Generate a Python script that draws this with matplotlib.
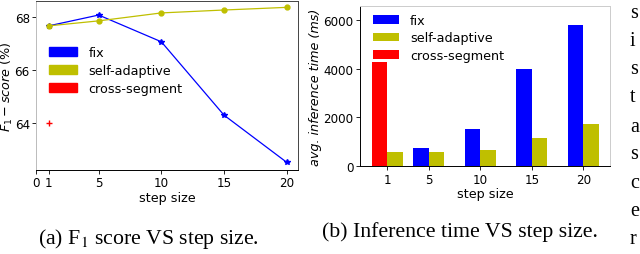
import matplotlib
matplotlib.use("Agg")
import matplotlib.pyplot as plt
from matplotlib.patches import Patch

# ---- data ----
steps = [1, 5, 10, 15, 20]
f1_fix = [67.68, 68.09, 67.08, 64.31, 62.53]
f1_self = [67.68, 67.87, 68.17, 68.28, 68.38]
f1_cross_x = [1]
f1_cross = [64.0]

bar_steps = [1, 5, 10, 15, 20]
time_fix_steps = [5, 10, 15, 20]
time_fix = [740, 1530, 4000, 5770]
time_self = [600, 590, 660, 1170, 1750]
time_cross_steps = [1]
time_cross = [4280]

labels = ["fix", "self-adaptive", "cross-segment"]
colors = ["#0000ff", "#bfbf00", "#ff0000"]
left_xticks = [0, 1, 5, 10, 15, 20]
left_yticks = [64, 66, 68]
right_yticks = [0, 2000, 4000, 6000]
side_letters = ["s", "i", "s", "t", "a", "s", "c", "e", "r"]

W, H = 640, 255
fig = plt.figure(figsize=(6.4, 2.55), dpi=100)
tfs = 8.6   # tick labels
lfs = 9.2   # axis labels / legend

def px_axes(l, t, r, b):
    return fig.add_axes([l / W, 1 - b / H, (r - l) / W, (b - t) / H])

# ---- left: F1 ----
ax1 = px_axes(36, 2, 298, 171)
ax1.plot(steps, f1_fix, color=colors[0], marker="*", markersize=4, lw=0.9)
ax1.plot(steps, f1_self, color=colors[1], marker="o", markersize=3.5, lw=0.9)
ax1.plot(f1_cross_x, f1_cross, color=colors[2], marker="+", markersize=5, lw=0, mew=1.0)
ax1.set_xlim(0, 20.9)
ax1.set_ylim(62.24, 68.62)
ax1.set_xticks(left_xticks)
ax1.set_yticks(left_yticks)
ax1.tick_params(labelsize=tfs, length=3, width=0.6, pad=1.5)
ax1.set_xlabel("step size", fontsize=lfs, labelpad=1)
ax1.set_ylabel("$F_1-score$ (%)", fontsize=lfs, labelpad=-0.5)
for s in ax1.spines.values():
    s.set_linewidth(0.7)
ax1.spines["top"].set_color("#444444")
ax1.spines["right"].set_color("#444444")
ax1.spines["left"].set_color("#bbbbbb")
handles = [Patch(color=c, label=l) for c, l in zip(colors, labels)]
ax1.legend(handles=handles, loc="upper left", bbox_to_anchor=(0.05, 0.735),
           frameon=False, fontsize=lfs, borderpad=0, borderaxespad=0,
           handlelength=2.2, handleheight=0.75, labelspacing=0.4, handletextpad=0.9)

# ---- right: inference time ----
ax2 = px_axes(360, 7, 610, 167.3)
w = 1.5
ax2.bar(time_fix_steps, time_fix, width=-w, align="edge", color=colors[0], label=labels[0])
ax2.bar(bar_steps, time_self, width=w, align="edge", color=colors[1], label=labels[1])
ax2.bar(time_cross_steps, time_cross, width=-w, align="edge", color=colors[2], label=labels[2])
ax2.set_xlim(-1.64, 22.58)
ax2.set_ylim(0, 6560)
ax2.set_xticks(bar_steps)
ax2.set_yticks(right_yticks)
ax2.tick_params(labelsize=tfs, length=3, width=0.6, pad=1.5)
ax2.set_xlabel("step size", fontsize=lfs, labelpad=1)
ax2.set_ylabel("avg. inference time (ms)", fontsize=lfs, style="italic", labelpad=1)
for s in ax2.spines.values():
    s.set_linewidth(0.7)
ax2.spines["top"].set_color("#cccccc")
ax2.spines["right"].set_color("#cccccc")
ax2.legend(loc="upper left", bbox_to_anchor=(0.052, 0.95),
           frameon=False, fontsize=lfs, borderpad=0, borderaxespad=0,
           handlelength=2.0, handleheight=0.7, labelspacing=0.35, handletextpad=0.9)

# ---- captions ----
cap = dict(fontsize=15.7, family="Liberation Serif", ha="center", va="center")
fig.text(148 / W, 1 - 239 / H, "(a) F$_1$ score VS step size.", math_fontfamily="stix", **cap)
fig.text(460 / W, 1 - 232 / H, "(b) Inference time VS step size.", **cap)

# ---- letters of the neighbouring text column at the right edge ----
ys = [13, 41, 70, 98, 127, 155, 184, 212, 240]
for y, ch in zip(ys, side_letters):
    fig.text(630 / W, 1 - y / H, ch, fontsize=14.5, family="Liberation Serif",
             ha="left", va="center")

fig.savefig("out.png", dpi=100)
